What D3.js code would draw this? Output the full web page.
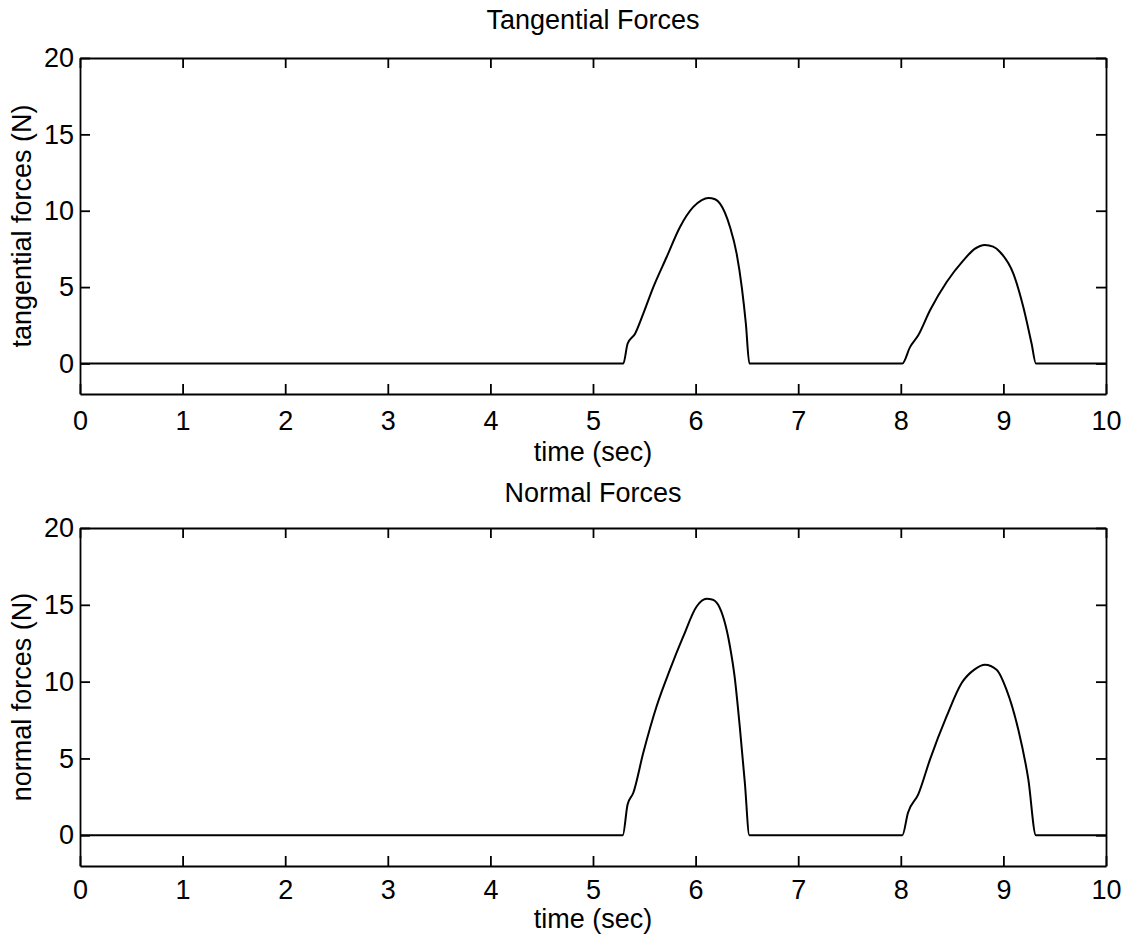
<!DOCTYPE html>
<html>
<head>
<meta charset="utf-8">
<script src="https://cdn.jsdelivr.net/npm/d3@7/dist/d3.min.js"></script>
<style>
  body { margin: 0; background: #fff; }
  svg { display: block; }
  text { font-family: Arial, "Liberation Sans", sans-serif; fill: #000; }
</style>
</head>
<body>
<div id="chart"></div>
<script>
// tangential force trace (time in sec, force in N)
var tanTime  = [0, 5.296, 5.337, 5.41, 5.49, 5.588, 5.718, 5.848, 5.978, 6.06, 6.124, 6.19, 6.238, 6.335, 6.40, 6.45, 6.49, 6.524,
                8.015, 8.09, 8.17, 8.285, 8.447, 8.61, 8.72, 8.82, 8.90, 8.967, 9.097, 9.194, 9.275, 9.317, 10];
var tanForce = [0, 0, 1.29, 1.95, 3.26, 5.0, 6.97, 8.94, 10.25, 10.7, 10.84, 10.75, 10.47, 8.94, 7.19, 5.0, 2.6, 0,
                0, 1.07, 1.84, 3.48, 5.33, 6.75, 7.5, 7.76, 7.65, 7.30, 5.88, 3.69, 1.29, 0, 0];

// normal force trace
var normTime  = [0, 5.29, 5.337, 5.393, 5.49, 5.62, 5.75, 5.88, 6.01, 6.108, 6.16, 6.22, 6.335, 6.38, 6.43, 6.48, 6.524,
                 8.015, 8.07, 8.17, 8.285, 8.447, 8.593, 8.72, 8.82, 8.934, 9.03, 9.145, 9.243, 9.317, 10];
var normForce = [0, 0, 2.0, 2.77, 5.37, 8.4, 10.78, 12.94, 14.89, 15.39, 15.35, 15.0, 12.29, 10.34, 7.1, 3.42, 0,
                 0, 1.47, 2.66, 4.94, 7.75, 9.91, 10.8, 11.1, 10.78, 9.48, 6.88, 3.64, 0, 0];

var xTicks = [0, 1, 2, 3, 4, 5, 6, 7, 8, 9, 10];
var yTicks = [0, 5, 10, 15, 20];

var panels = [
  { title: "Tangential Forces", ylabel: "tangential forces (N)", t: tanTime, f: tanForce,
    top: 58, bottom: 394, titleY: 29, tickPad: 17, xlabelY: 461 },
  { title: "Normal Forces", ylabel: "normal forces (N)", t: normTime, f: normForce,
    top: 528, bottom: 866, titleY: 502, tickPad: 14, xlabelY: 928 }
];

var W = 1134, H = 944;
var left = 80, right = 1106;
var fs = 27;

var svg = d3.select('#chart').append('svg')
  .attr('width', W)
  .attr('height', H);

panels.forEach(function(p) {
  var x = d3.scaleLinear().domain([0, 10]).range([left, right]);
  var y = d3.scaleLinear().domain([-2, 20]).range([p.bottom, p.top]);

  var g = svg.append('g');

  // ticks pointing inward on all four sides
  var axB = g.append('g').attr('transform', 'translate(0,' + p.bottom + ')')
    .call(d3.axisBottom(x).tickValues(xTicks).tickSizeInner(-10).tickSizeOuter(0).tickPadding(p.tickPad).tickFormat(d3.format('d')));
  var axT = g.append('g').attr('transform', 'translate(0,' + p.top + ')')
    .call(d3.axisTop(x).tickValues(xTicks).tickSizeInner(-10).tickSizeOuter(0).tickFormat(''));
  var axL = g.append('g').attr('transform', 'translate(' + left + ',0)')
    .call(d3.axisLeft(y).tickValues(yTicks).tickSizeInner(-10).tickSizeOuter(0).tickPadding(6).tickFormat(d3.format('d')));
  var axR = g.append('g').attr('transform', 'translate(' + right + ',0)')
    .call(d3.axisRight(y).tickValues(yTicks).tickSizeInner(-10).tickSizeOuter(0).tickFormat(''));

  [axB, axT, axL, axR].forEach(function(a) {
    a.selectAll('path, line').attr('stroke', '#000').attr('stroke-width', 1.8);
    a.selectAll('text').style('font-size', fs + 'px').attr('fill', '#000');
  });

  // the force trace
  var line = d3.line()
    .x(function(d, i) { return x(p.t[i]); })
    .y(function(d) { return y(d); })
    .curve(d3.curveMonotoneX);

  g.append('path')
    .datum(p.f)
    .attr('d', line)
    .attr('fill', 'none')
    .attr('stroke', '#000')
    .attr('stroke-width', 2);

  g.append('text')
    .attr('x', (left + right) / 2)
    .attr('y', p.titleY)
    .attr('text-anchor', 'middle')
    .style('font-size', fs + 'px')
    .text(p.title);

  g.append('text')
    .attr('x', (left + right) / 2)
    .attr('y', p.xlabelY)
    .attr('text-anchor', 'middle')
    .style('font-size', fs + 'px')
    .text('time (sec)');

  g.append('text')
    .attr('transform', 'translate(31,' + ((p.top + p.bottom) / 2) + ') rotate(-90)')
    .attr('text-anchor', 'middle')
    .style('font-size', fs + 'px')
    .text(p.ylabel);
});
</script>
</body>
</html>
